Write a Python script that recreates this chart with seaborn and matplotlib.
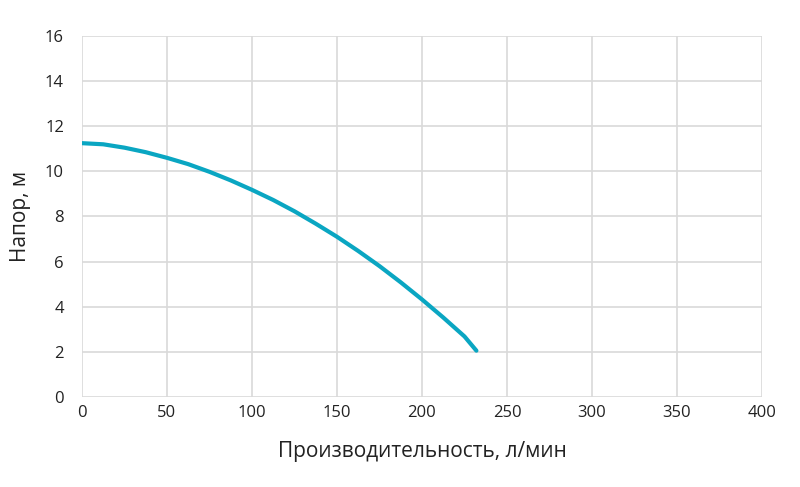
import matplotlib
matplotlib.use("Agg")
import matplotlib.pyplot as plt
import seaborn as sns
import pandas as pd

flow = [0, 12.5, 25, 37.5, 50, 62.5, 75, 87.5, 100, 112.5, 125, 137.5, 150,
        162.5, 175, 187.5, 200, 212.5, 225, 232]
head = [11.25, 11.2, 11.05, 10.85, 10.6, 10.32, 9.98, 9.6, 9.18, 8.73, 8.23,
        7.68, 7.1, 6.47, 5.8, 5.08, 4.32, 3.52, 2.68, 2.05]
xticks = [0, 50, 100, 150, 200, 250, 300, 350, 400]
yticks = [0, 2, 4, 6, 8, 10, 12, 14, 16]

sns.set_style("white")
plt.rcParams['font.family'] = ['Open Sans', 'DejaVu Sans']

fig = plt.figure(figsize=(8, 4.87), dpi=100)
ax = fig.add_axes([0.1025, 0.185, 0.85, 0.741])
df = pd.DataFrame({"q": flow, "h": head})
sns.lineplot(data=df, x="q", y="h", ax=ax, color="#0aa6c2", linewidth=3,
             solid_joinstyle="round", solid_capstyle="round")
ax.set_xlim(0, 400)
ax.set_ylim(0, 16)
ax.set_xticks(xticks)
ax.set_yticks(yticks)
ax.grid(True, color="#d9d9d9", linewidth=1.2)
for s in ax.spines.values():
    s.set_visible(False)
ax.tick_params(axis='y', length=5, color="#d9d9d9", labelsize=12, pad=8, labelcolor="#222222")
ax.tick_params(axis='x', length=0, labelsize=12, pad=6, labelcolor="#222222")
ax.set_xlabel("Производительность, л/мин", fontsize=15, labelpad=14, color="#222222")
ax.set_ylabel("Напор, м", fontsize=15, labelpad=10, color="#222222")
fig.savefig("out.png", dpi=100)
